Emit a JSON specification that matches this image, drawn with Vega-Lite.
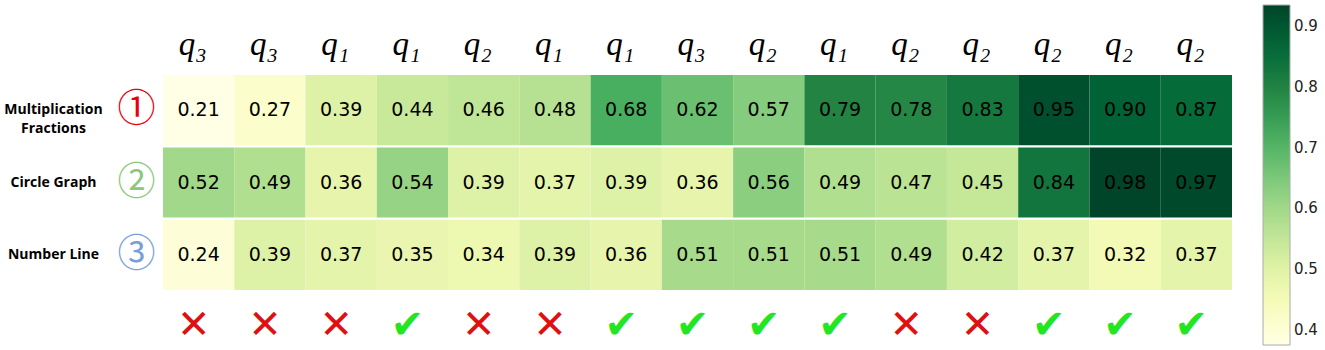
{
  "$schema": "https://vega.github.io/schema/vega-lite/v6.json",
  "width": 1069,
  "height": 215,
  "autosize": "none",
  "padding": {"left": 163, "top": 75, "right": 93, "bottom": 60},
  "background": "white",
  "config": {"view": {"stroke": null}},
  "data": {
    "values": [
      {"col": 1, "row": 1, "value": 0.21}, {"col": 2, "row": 1, "value": 0.27}, {"col": 3, "row": 1, "value": 0.39}, {"col": 4, "row": 1, "value": 0.44}, {"col": 5, "row": 1, "value": 0.46}, {"col": 6, "row": 1, "value": 0.48}, {"col": 7, "row": 1, "value": 0.68}, {"col": 8, "row": 1, "value": 0.62}, {"col": 9, "row": 1, "value": 0.57}, {"col": 10, "row": 1, "value": 0.79}, {"col": 11, "row": 1, "value": 0.78}, {"col": 12, "row": 1, "value": 0.83}, {"col": 13, "row": 1, "value": 0.95}, {"col": 14, "row": 1, "value": 0.90}, {"col": 15, "row": 1, "value": 0.87},
      {"col": 1, "row": 2, "value": 0.52}, {"col": 2, "row": 2, "value": 0.49}, {"col": 3, "row": 2, "value": 0.36}, {"col": 4, "row": 2, "value": 0.54}, {"col": 5, "row": 2, "value": 0.39}, {"col": 6, "row": 2, "value": 0.37}, {"col": 7, "row": 2, "value": 0.39}, {"col": 8, "row": 2, "value": 0.36}, {"col": 9, "row": 2, "value": 0.56}, {"col": 10, "row": 2, "value": 0.49}, {"col": 11, "row": 2, "value": 0.47}, {"col": 12, "row": 2, "value": 0.45}, {"col": 13, "row": 2, "value": 0.84}, {"col": 14, "row": 2, "value": 0.98}, {"col": 15, "row": 2, "value": 0.97},
      {"col": 1, "row": 3, "value": 0.24}, {"col": 2, "row": 3, "value": 0.39}, {"col": 3, "row": 3, "value": 0.37}, {"col": 4, "row": 3, "value": 0.35}, {"col": 5, "row": 3, "value": 0.34}, {"col": 6, "row": 3, "value": 0.39}, {"col": 7, "row": 3, "value": 0.36}, {"col": 8, "row": 3, "value": 0.51}, {"col": 9, "row": 3, "value": 0.51}, {"col": 10, "row": 3, "value": 0.51}, {"col": 11, "row": 3, "value": 0.49}, {"col": 12, "row": 3, "value": 0.42}, {"col": 13, "row": 3, "value": 0.37}, {"col": 14, "row": 3, "value": 0.32}, {"col": 15, "row": 3, "value": 0.37}
    ]
  },
  "layer": [
    {
      "mark": {"type": "rect"},
      "encoding": {
        "x": {
          "field": "col", "type": "ordinal",
          "scale": {"paddingInner": 0, "paddingOuter": 0},
          "axis": {
            "orient": "top", "title": null, "ticks": false, "domain": false,
            "labelAngle": 0,
            "labelExpr": "['q₃','q₃','q₁','q₁','q₂','q₁','q₁','q₃','q₂','q₁','q₂','q₂','q₂','q₂','q₂'][datum.value-1]",
            "labelFont": "Liberation Serif", "labelFontStyle": "italic", "labelFontSize": 33,
            "labelColor": "black", "labelPadding": 14, "labelOffset": -6
          }
        },
        "y": {
          "field": "row", "type": "ordinal",
          "scale": {"paddingInner": 0.03, "paddingOuter": 0},
          "axis": {
            "orient": "left", "title": null, "ticks": false, "domain": false,
            "labelExpr": "datum.value == 1 ? ['Multiplication','Fractions'] : datum.value == 2 ? 'Circle Graph' : 'Number Line'",
            "labelFont": "Open Sans", "labelFontWeight": "bold", "labelFontSize": 14,
            "labelColor": "black", "labelAlign": "center", "labelPadding": 110, "labelLineHeight": 19
          }
        },
        "color": {
          "field": "value", "type": "quantitative",
          "scale": {
            "domain": [0.21, 0.30625, 0.4025, 0.49875, 0.595, 0.69125, 0.7875, 0.88375, 0.98],
            "range": ["#ffffe5", "#f7fcb9", "#d9f0a3", "#addd8e", "#78c679", "#41ab5d", "#238443", "#006837", "#004529"]
          },
          "legend": null
        }
      }
    },
    {
      "mark": {"type": "rect", "opacity": 0},
      "encoding": {
        "x": {"field": "col", "type": "ordinal", "axis": null},
        "y": {"field": "row", "type": "ordinal", "axis": null},
        "color": {
          "field": "value", "type": "quantitative",
          "scale": {
            "domain": [0.375, 0.445, 0.515, 0.585, 0.655, 0.725, 0.795, 0.865, 0.935],
            "range": ["#ffffe5", "#f7fcb9", "#d9f0a3", "#addd8e", "#78c679", "#41ab5d", "#238443", "#006837", "#004529"]
          },
          "legend": {
            "orient": "none", "legendX": 1100, "legendY": -70, "direction": "vertical",
            "title": null, "gradientLength": 340, "gradientThickness": 27,
            "values": [0.4, 0.5, 0.6, 0.7, 0.8, 0.9], "format": ".1f",
            "labelFont": "DejaVu Sans", "labelFontSize": 15, "labelColor": "#222",
            "gradientStrokeColor": "#aaa", "gradientStrokeWidth": 1, "labelOffset": 4
          }
        }
      }
    },
    {
      "mark": {"type": "text", "font": "DejaVu Sans", "fontSize": 19, "color": "black"},
      "encoding": {
        "x": {
          "field": "col", "type": "ordinal",
          "axis": {
            "orient": "bottom", "title": null, "ticks": false, "domain": false,
            "labelAngle": 0,
            "labelExpr": "[0,0,0,1,0,0,1,1,1,1,0,0,1,1,1][datum.value-1] == 1 ? '✔' : '✕'",
            "labelFont": "DejaVu Sans", "labelFontSize": 40,
            "labelColor": {"condition": {"test": "indexof([4,7,8,9,10,13,14,15], datum.value) >= 0", "value": "#22e622"}, "value": "#dd1111"},
            "labelBaseline": "middle", "labelPadding": 35, "labelOffset": -5
          }
        },
        "y": {
          "field": "row", "type": "ordinal",
          "axis": {
            "orient": "left", "title": null, "ticks": false, "domain": false,
            "labelExpr": "datum.value == 1 ? '①' : datum.value == 2 ? '②' : '③'",
            "labelFont": "Noto Sans CJK JP", "labelFontSize": 38,
            "labelColor": {"condition": [{"test": "datum.value == 1", "value": "#e8000b"}, {"test": "datum.value == 2", "value": "#8cc77a"}], "value": "#7a9fd8"},
            "labelAlign": "center", "labelPadding": 27
          }
        },
        "text": {"field": "value", "type": "quantitative", "format": ".2f"}
      }
    }
  ],
  "resolve": {"axis": {"x": "independent", "y": "independent"}, "scale": {"color": "independent"}}
}
